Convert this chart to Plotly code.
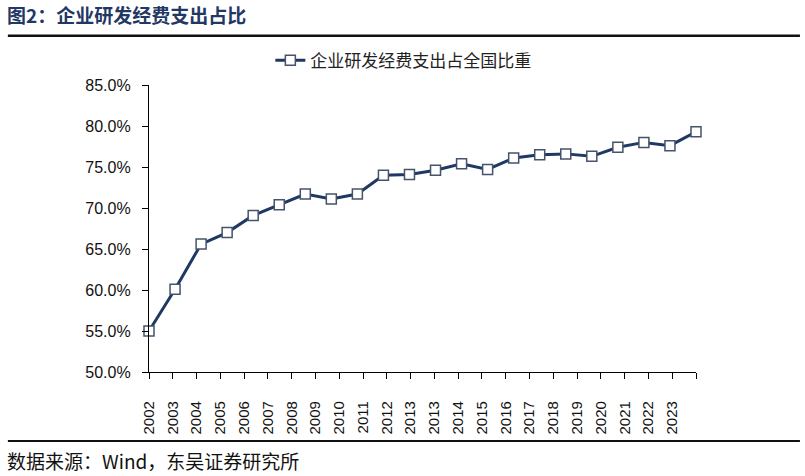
import plotly.graph_objects as go

years = [str(y) for y in range(2002, 2024)]
values = [55.0, 60.1, 65.6, 67.0, 69.1, 70.4, 71.7, 71.1, 71.7, 74.0, 74.1,
          74.6, 75.4, 74.7, 76.1, 76.5, 76.6, 76.3, 77.4, 78.0, 77.6, 79.3]
tick_labels = ["2002", "2003", "2004", "2005", "2006", "2007", "2008", "2009",
               "2010", "2011", "2012", "2013", "2013", "2014", "2015", "2016",
               "2017", "2018", "2019", "2020", "2021", "2022", "2023"]
series_name = "企业研发经费支出占全国比重"
title_text = "图2：企业研发经费支出占比"
source_text = "数据来源：Wind，东吴证券研究所"

navy = "#1f3864"
cjk = "Noto Sans CJK SC"
latin = "Liberation Sans, Arial"

fig = go.Figure()
fig.add_trace(go.Scatter(
    x=years, y=values, mode="lines+markers", name=series_name,
    line=dict(color=navy, width=3),
    marker=dict(symbol="square", size=10, color="white",
                line=dict(color="#44546a", width=1.5)),
    cliponaxis=False,
))
# invisible helper trace for the label axis
fig.add_trace(go.Scatter(
    x=[0, len(tick_labels)], y=[50, 50], xaxis="x2", mode="markers",
    marker=dict(opacity=0), showlegend=False, hoverinfo="skip",
))

fig.update_layout(
    width=805, height=476,
    margin=dict(l=149, r=109, t=85, b=104),
    paper_bgcolor="white", plot_bgcolor="white",
    showlegend=True,
    legend=dict(orientation="h", x=0.465, xanchor="center", y=1.085, yanchor="middle",
                font=dict(family=cjk, size=17, color="#222222"),
                bgcolor="rgba(0,0,0,0)"),
    xaxis=dict(type="category", range=[0, len(years) - 1], showticklabels=False,
               ticks="", showline=False, showgrid=False, zeroline=False,
               fixedrange=True),
    xaxis2=dict(overlaying="x", anchor="y", side="bottom",
                range=[0, len(tick_labels)],
                tickmode="array",
                tickvals=list(range(len(tick_labels) + 1)),
                ticktext=tick_labels + [""],
                tickangle=-90, ticks="outside", ticklen=6, tickcolor="black",
                ticklabelstandoff=16,
                showline=True, linecolor="black", linewidth=1.3,
                showgrid=False, zeroline=False,
                tickfont=dict(family=latin, size=15, color="#111111")),
    yaxis=dict(range=[50, 85], dtick=5, tickformat=".1f", ticksuffix="%",
               ticks="outside", ticklen=6, tickcolor="black",
               ticklabelstandoff=8,
               showline=True, linecolor="black", linewidth=1.3,
               showgrid=False, zeroline=False,
               tickfont=dict(family=latin, size=16, color="#111111")),
)

fig.add_annotation(x=years[-1], y=values[-1], xref="x", yref="y",
                   text="79.3%", showarrow=False, yshift=27,
                   font=dict(family=latin, size=16, color="#111111"))

fig.add_annotation(x=-0.263, y=1.244, xref="paper", yref="paper",
                   xanchor="left", yanchor="middle", showarrow=False,
                   text="<b>" + title_text + "</b>",
                   font=dict(family=cjk, size=19, color=navy))
fig.add_annotation(x=-0.263, y=-0.31, xref="paper", yref="paper",
                   xanchor="left", yanchor="middle", showarrow=False,
                   text=source_text,
                   font=dict(family=cjk, size=19, color="#111111"))

fig.add_shape(type="line", xref="paper", yref="paper",
              x0=-0.258, x1=1.19, y0=1.172, y1=1.172,
              line=dict(color="#111111", width=2.5))
fig.add_shape(type="line", xref="paper", yref="paper",
              x0=-0.258, x1=1.19, y0=-0.240, y1=-0.240,
              line=dict(color="#111111", width=2))

fig.write_html("out.html")
